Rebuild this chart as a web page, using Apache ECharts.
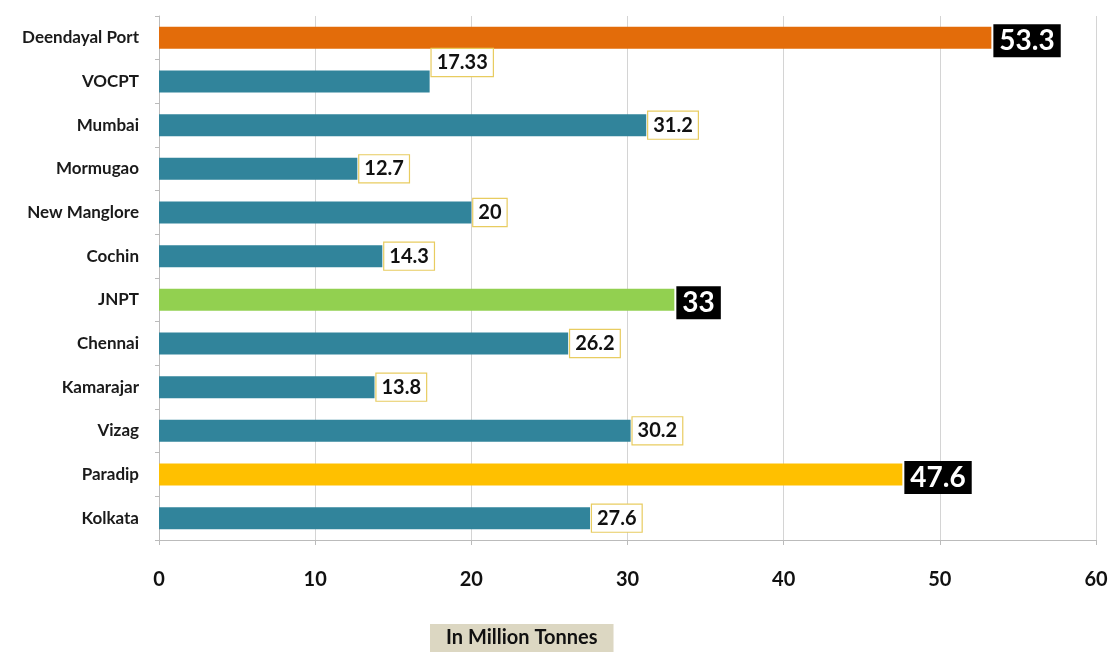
<!DOCTYPE html>
<html><head><meta charset="utf-8">
<script src="https://cdn.jsdelivr.net/npm/echarts@6/dist/echarts.min.js"></script>
<style>html,body{margin:0;padding:0;background:#fff}#c{width:1119px;height:656px}</style>
</head><body><div id="c"></div>
<script>
const ports = ['Deendayal Port','VOCPT','Mumbai','Mormugao','New Manglore','Cochin','JNPT','Chennai','Kamarajar','Vizag','Paradip','Kolkata'];
const values = [53.3,17.33,31.2,12.7,20,14.3,33,26.2,13.8,30.2,47.6,27.6];
const xTicks = [0,10,20,30,40,50,60];
const axisTitle = 'In Million Tonnes';

const teal = '#31849b';
const barColors = ['#e36c0a',teal,teal,teal,teal,teal,'#92d050',teal,teal,teal,'#ffc000',teal];
const highlighted = [true,false,false,false,false,false,true,false,false,false,true,false];

const chart = echarts.init(document.getElementById('c'));
const data = values.map((v,i)=>{
  const hl = highlighted[i];
  return {
    value: v,
    itemStyle: {color: barColors[i]},
    label: hl ? {
      show:true, position:'right', distance:2,
      color:'#fff', backgroundColor:'#000', fontSize:28, fontWeight:'bold',
      fontFamily:'Lato', padding:[3,6,2,6], offset:[0,3]
    } : {
      show:true, position:'right', distance:2,
      color:'#111', backgroundColor:'#fff', borderColor:'#e8cc60', borderWidth:1.2,
      fontSize:20, fontWeight:'bold', fontFamily:'Lato', padding:[4,5,3,5],
      offset: i===1 ? [0,-19] : [0,0]
    }
  };
});
chart.setOption({
  animation:false,
  grid:{left:159, right:23, top:16, bottom:116},
  xAxis:{
    type:'value', min:0, max:60, interval:10,
    axisLine:{show:true, lineStyle:{color:'#bbb'}},
    axisTick:{show:true, length:5, lineStyle:{color:'#bbb'}},
    axisLabel:{color:'#111', fontSize:20, fontWeight:'bold', fontFamily:'Lato', margin:30,
      formatter:v=> xTicks.includes(v) ? String(v) : ''},
    splitLine:{show:true, lineStyle:{color:'#d4d4d4'}}
  },
  yAxis:{
    type:'category', data:ports, inverse:true,
    axisLine:{show:true, lineStyle:{color:'#bbb'}},
    axisTick:{show:true, length:4, lineStyle:{color:'#bbb'}},
    axisLabel:{color:'#1a1a1a', fontSize:17, fontWeight:'bold', fontFamily:'Lato', margin:20}
  },
  title:{
    text:axisTitle, left:430, top:624,
    padding:[4,16,4,16],
    backgroundColor:'#dcd7c2',
    textStyle:{fontSize:20, fontWeight:'bold', fontFamily:'Lato', color:'#111'}
  },
  series:[{
    type:'bar', data:data, barWidth:22
  }]
});
</script></body></html>
